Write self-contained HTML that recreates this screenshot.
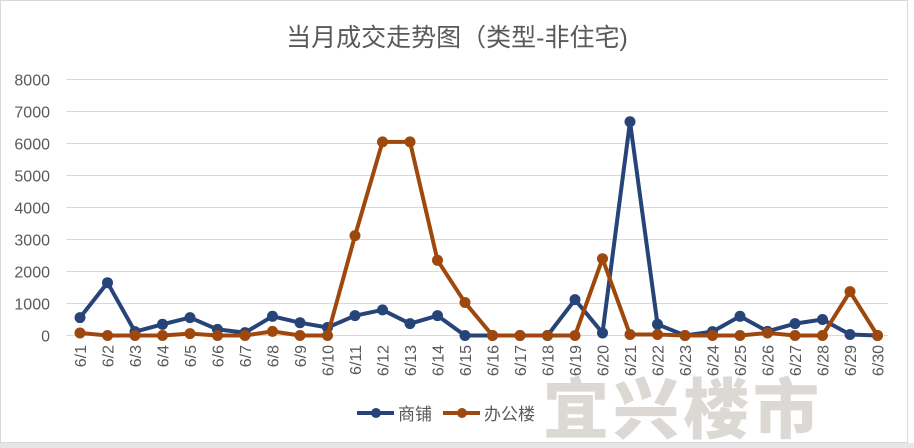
<!DOCTYPE html>
<html><head><meta charset="utf-8"><style>
body{margin:0;background:#fff;}
svg{display:block;font-family:"Liberation Sans","Noto Sans CJK SC",sans-serif;}
</style></head><body>
<svg id="c" width="914" height="448" xmlns="http://www.w3.org/2000/svg">
<rect x="0.5" y="0.5" width="907" height="442" fill="#fff" stroke="#d9d9d9"/>
<rect x="0" y="443" width="914" height="5" fill="#e6e6e6"/>
<text x="457" y="46" text-anchor="middle" font-size="25" fill="#595959">当月成交走势图（类型-非住宅)</text>
<text x="683" y="433" text-anchor="middle" font-size="66" font-weight="900" fill="#dcd9d5" letter-spacing="4">宜兴楼市</text>
<g id="grid"></g><g id="xl"></g><g id="series"></g>
<g>
<g>
<line x1="357" y1="413" x2="394" y2="413" stroke="#264478" stroke-width="4"/><circle cx="376" cy="413" r="5" fill="#264478"/>
<text x="398" y="420" font-size="17" fill="#595959">商铺</text></g>
<g>
<line x1="443" y1="413" x2="480" y2="413" stroke="#9e480e" stroke-width="4"/><circle cx="462" cy="413" r="5" fill="#9e480e"/>
<text x="484" y="420" font-size="17" fill="#595959">办公楼</text></g>
</g>
</svg>
<script>
const categories=["6/1","6/2","6/3","6/4","6/5","6/6","6/7","6/8","6/9","6/10","6/11","6/12","6/13","6/14","6/15","6/16","6/17","6/18","6/19","6/20","6/21","6/22","6/23","6/24","6/25","6/26","6/27","6/28","6/29","6/30"];
const shangpu=[560,1650,120,350,560,190,90,600,400,250,620,800,370,620,0,0,0,0,1120,80,6680,350,0,120,600,130,370,500,30,0];
const bangonglou=[80,0,0,0,60,0,0,130,0,0,3120,6050,6050,2350,1030,0,0,0,0,2400,30,30,0,0,0,80,0,0,1370,0];
const yTicks=[0,1000,2000,3000,4000,5000,6000,7000,8000];
const NS="http://www.w3.org/2000/svg";
const x=i=>80+i*(797.5/29);
const y=v=>335.5-v*(256/8000);
function mk(t,a,p){const e=document.createElementNS(NS,t);for(const k in a)e.setAttribute(k,a[k]);p.appendChild(e);return e;}
const g=document.getElementById('grid');
yTicks.forEach(v=>{
 const l=mk('line',{x1:66,x2:888,y1:y(v),y2:y(v),stroke:'#d9d9d9','stroke-width':1},g);
 
 
 const t=mk('text',{x:50,y:y(v)+6,'text-anchor':'end','font-size':16,fill:'#595959'},g);
 t.textContent=v;
 
 
});
const xl=document.getElementById('xl');
categories.forEach((c,i)=>{
 const t=mk('text',{transform:`translate(${x(i)+6},345) rotate(-90)`,'text-anchor':'end','font-size':16,fill:'#595959'},xl);
 t.textContent=c;
 
 
});
const sg=document.getElementById('series');
[[shangpu,'#264478','shangpu'],[bangonglou,'#9e480e','bangonglou']].forEach(([d,col,n])=>{
 const p=mk('polyline',{points:d.map((v,i)=>x(i)+','+y(v)).join(' '),fill:'none',stroke:col,'stroke-width':4,'stroke-linejoin':'round'},sg);
 
 
 d.forEach((v,i)=>{
  const c=mk('circle',{cx:x(i),cy:y(v),r:5.5,fill:col},sg);
  
  
 });
});
</script>
</body></html>
